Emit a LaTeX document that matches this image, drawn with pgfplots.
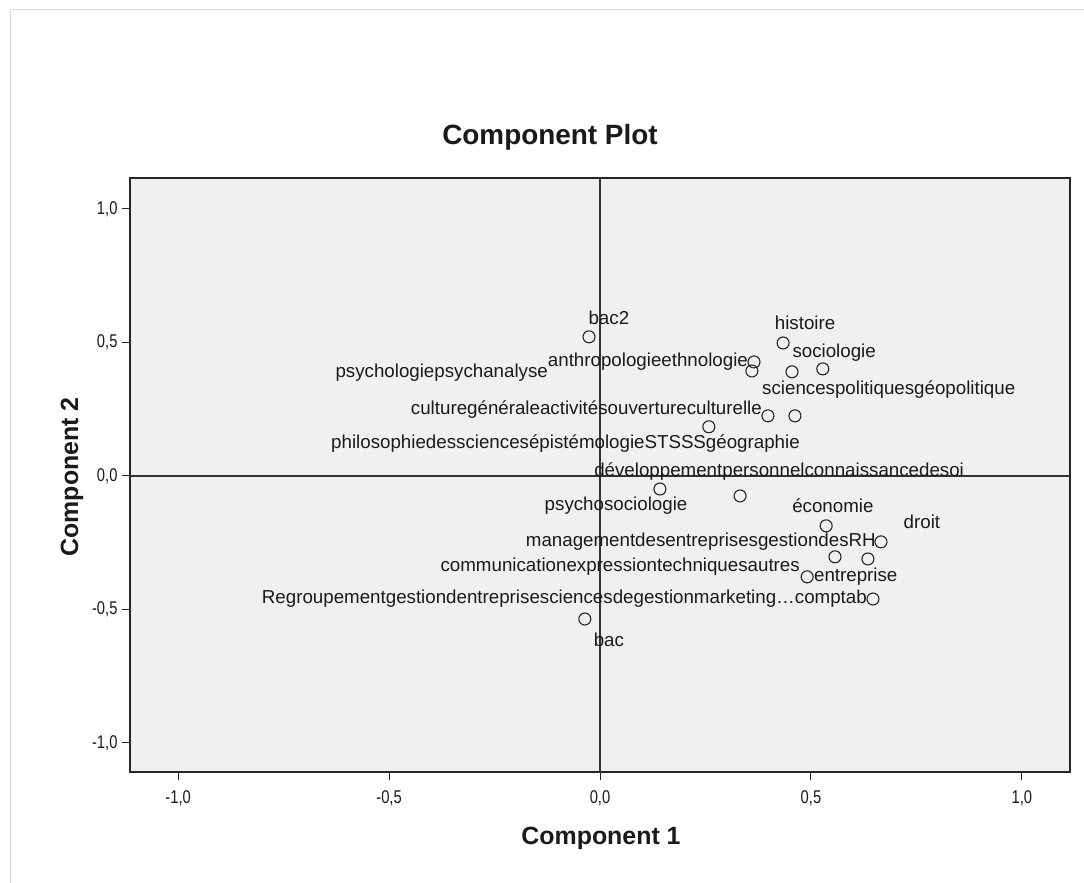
\documentclass[border=0pt]{standalone}
\usepackage{pgfplots}
\pgfplotsset{compat=1.18}
\usepackage{fontspec}
\setmainfont{Liberation Sans}
\usepackage{graphicx}
\definecolor{plotbg}{HTML}{F0F0F0}
\definecolor{framec}{HTML}{DADADA}
\definecolor{txt}{HTML}{1A1A1A}
\newcommand{\tl}[1]{\scalebox{0.8}[1]{#1}}
\pgfplotstableread{
x y
-0.026 0.521
0.434 0.498
0.365 0.427
0.360 0.393
0.455 0.390
0.528 0.401
0.398 0.225
0.462 0.225
0.258 0.184
0.142 -0.049
0.332 -0.075
0.536 -0.187
0.666 -0.247
0.557 -0.303
0.635 -0.311
0.491 -0.378
0.647 -0.461
-0.036 -0.536
}\loadings
\begin{document}
\begin{tikzpicture}[x=1bp,y=1bp]
\path[use as bounding box, fill=white] (0,0) rectangle (1084,883);
\draw[framec, line width=1bp] (10,0) -- (10,873) -- (1084,873);
\begin{axis}[
 at={(130bp,111bp)}, anchor=south west,
 width=940bp, height=594bp, scale only axis,
 xmin=-1.114, xmax=1.114, ymin=-1.109, ymax=1.116,
 axis background/.style={fill=plotbg},
 axis line style={line width=1.6bp, black!85},
 xtick={-1,-0.5,0,0.5,1},
 xticklabels={\tl{-1,0},\tl{-0,5},\tl{0,0},\tl{0,5},\tl{1,0}},
 ytick={-1,-0.5,0,0.5,1},
 yticklabels={\tl{-1,0},\tl{-0,5},\tl{0,0},\tl{0,5},\tl{1,0}},
 xtick pos=left, ytick pos=left,
 tick align=outside, major tick length=8bp,
 tick style={line width=1bp, black!85},
 ticklabel style={font=\fontsize{18.5}{21}\selectfont, text=txt},
 xticklabel style={yshift=-7bp},
 yticklabel style={xshift=-1bp},
 clip=false,
]
\addplot[black!80, line width=1.3bp] coordinates {(0,-1.109) (0,1.116)};
\addplot[black!80, line width=1.3bp] coordinates {(-1.114,0) (1.114,0)};
\addplot[only marks, mark=o, mark size=6bp, mark options={line width=1.1bp, draw=black!85}] table {\loadings};
\begin{scope}[every node/.style={font=\fontsize{18.8}{21}\selectfont, text=txt, inner sep=0pt}]
\node[anchor=center] at (axis cs:0.021,0.592) {bac2};
\node[anchor=center] at (axis cs:0.486,0.573) {histoire};
\node[anchor=center] at (axis cs:0.555,0.461) {sociologie};
\node[anchor=east] at (axis cs:0.351,0.427) {anthropologieethnologie};
\node[anchor=east] at (axis cs:-0.123,0.386) {psychologiepsychanalyse};
\node[anchor=west] at (axis cs:0.384,0.322) {sciencespolitiquesgéopolitique};
\node[anchor=east] at (axis cs:0.384,0.247) {culturegénéraleactivitésouvertureculturelle};
\node[anchor=east] at (axis cs:0.474,0.120) {philosophiedessciencesépistémologieSTSSSgéographie};
\node[anchor=west] at (axis cs:-0.014,0.015) {développementpersonnelconnaissancedesoi};
\node[anchor=center] at (axis cs:0.038,-0.112) {psychosociologie};
\node[anchor=center] at (axis cs:0.552,-0.112) {économie};
\node[anchor=center] at (axis cs:0.763,-0.172) {droit};
\node[anchor=east] at (axis cs:0.654,-0.247) {managementdesentreprisesgestiondesRH};
\node[anchor=east] at (axis cs:0.474,-0.341) {communicationexpressiontechniquesautres};
\node[anchor=west] at (axis cs:0.507,-0.378) {entreprise};
\node[anchor=east] at (axis cs:0.633,-0.461) {Regroupementgestiondentreprisesciencesdegestionmarketing…comptab};
\node[anchor=center] at (axis cs:0.021,-0.614) {bac};
\end{scope}
\end{axis}
\node[font=\bfseries\fontsize{28}{31}\selectfont, text=txt] at (550,746) {Component Plot};
\node[font=\bfseries\fontsize{25}{28}\selectfont, text=txt] at (601,45) {Component 1};
\node[font=\bfseries\fontsize{25}{28}\selectfont, text=txt, rotate=90] at (72,406) {Component 2};
\end{tikzpicture}
\end{document}
